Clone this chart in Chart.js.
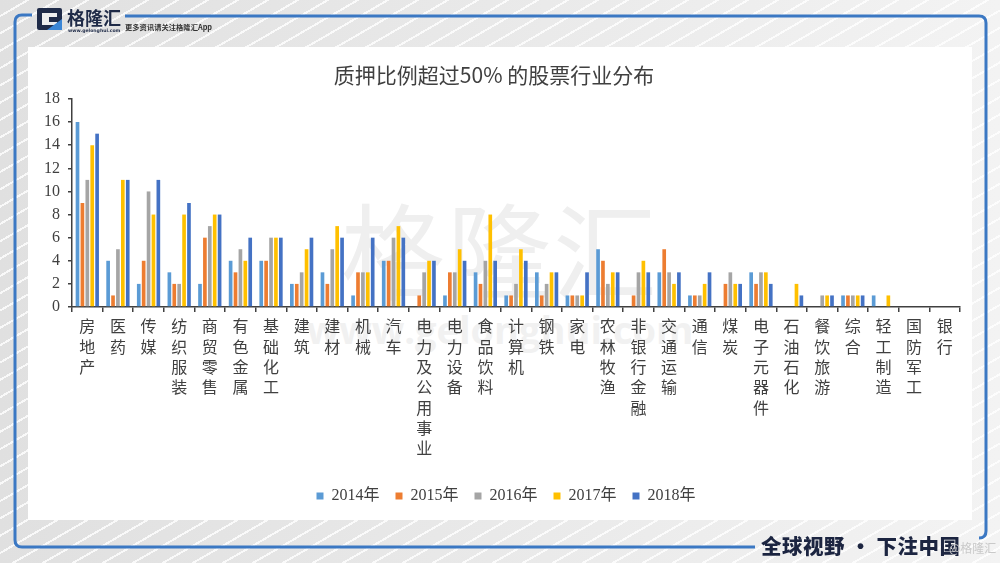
<!DOCTYPE html>
<html><head><meta charset="utf-8">
<script src="https://cdn.jsdelivr.net/npm/chart.js@4/dist/chart.umd.min.js"></script>
<style>
html,body{margin:0;padding:0;}
body{width:1000px;height:563px;position:relative;overflow:hidden;
 background:
  repeating-linear-gradient(150deg, rgba(255,255,255,0) 0px, rgba(255,255,255,0) 13px, rgba(255,255,255,0.8) 13px, rgba(255,255,255,0.8) 15px),
  linear-gradient(90deg,#e0e0e0,#ebebeb 60%,#f3f3f3);}
#panel{position:absolute;left:28px;top:47px;width:944px;height:473px;background:#fff;overflow:hidden;}
#wm1{position:absolute;left:0;width:944px;top:143px;text-align:center;font:104px 'Noto Sans CJK SC';color:#efefef;letter-spacing:2px;line-height:114px;}
#wm2{position:absolute;left:0;width:944px;top:256px;text-align:center;font:bold 38px 'Open Sans','DejaVu Sans';color:#f1f1f1;}
#c{position:absolute;left:0;top:0;}
#deco{position:absolute;left:0;top:0;}
</style></head>
<body>
<div id="panel">
  <div id="wm1">格隆汇</div>
  <div id="wm2">www.gelonghui.com</div>
  <canvas id="c" width="944" height="473"></canvas>
</div>
<svg id="deco" width="1000" height="563" xmlns="http://www.w3.org/2000/svg">
  <path d="M32 15 H22 Q15 15 15 22 V540 Q15 547 22 547 H755" fill="none" stroke="#3b78c3" stroke-width="3"/>
  <path d="M125 16 H979 Q986 16 986 23 V531 Q986 538 979 538" fill="none" stroke="#3b78c3" stroke-width="3"/>
  <rect x="37" y="8" width="25" height="22" rx="2" fill="#1f2b48"/>
  <rect x="42" y="13" width="15" height="12" fill="#eeeeee"/>
  <rect x="49" y="17" width="13" height="5" fill="#1f2b48"/>
  <polygon points="47,30 62,30 62,19" fill="#3b86d6"/>
  <text x="67" y="25" font-family="Noto Sans CJK SC" font-weight="bold" font-size="18" fill="#1f2b48">格隆汇</text>
  <text x="68" y="32" font-family="DejaVu Sans" font-weight="bold" font-size="4.6" fill="#1f2b48">www.gelonghui.com</text>
  <text x="125" y="30" font-family="Noto Sans CJK SC" font-weight="bold" font-size="7.3" fill="#333">更多资讯请关注格隆汇App</text>
  <text x="761" y="554" font-family="Noto Sans CJK SC" font-weight="900" font-size="20.5" letter-spacing="0.5" fill="#1c2541">全球视野 • 下注中国</text>
  <text x="949" y="553" font-family="Noto Sans CJK SC" font-size="12" fill="#c9c9c9">@格隆汇</text>
</svg>
<script>
const categories = ['房地产','医药','传媒','纺织服装','商贸零售','有色金属','基础化工','建筑','建材','机械','汽车','电力及公用事业','电力设备','食品饮料','计算机','钢铁','家电','农林牧渔','非银行金融','交通运输','通信','煤炭','电子元器件','石油石化','餐饮旅游','综合','轻工制造','国防军工','银行'];
const seriesNames = ['2014年','2015年','2016年','2017年','2018年'];
const v2014 = [16,4,2,3,2,4,4,2,3,1,4,0,1,3,1,3,1,5,0,3,1,0,3,0,0,1,1,0,0];
const v2015 = [9,1,4,2,6,3,4,2,2,3,4,1,3,2,1,1,1,4,1,5,1,2,2,0,0,1,0,0,0];
const v2016 = [11,5,10,2,7,5,6,3,5,3,6,3,3,4,2,2,1,2,3,3,1,3,3,0,1,1,0,0,0];
const v2017 = [14,11,8,8,8,4,6,5,7,3,7,4,5,8,5,3,1,3,4,2,2,2,3,2,1,1,1,0,0];
const v2018 = [15,11,11,9,8,6,6,6,6,6,6,4,4,4,4,3,3,3,3,3,3,2,2,1,1,1,0,0,0];
const yMin = 0, yMax = 18, yStep = 2;
const titleText = '质押比例超过50% 的股票行业分布';

const colors = ['#5B9BD5','#ED7D31','#A5A5A5','#FFC000','#4472C4'];
const seriesValues = [v2014, v2015, v2016, v2017, v2018];

const titlePlugin = {
  id: 'customTitle',
  afterLayout(chart) {
    if (chart.legend) { chart.legend.left += 12; chart.legend.right += 12; }
  },
  afterDraw(chart) {
    const ctx = chart.ctx;
    ctx.save();
    ctx.font = '21px "Noto Sans CJK SC"';
    ctx.fillStyle = '#404040';
    ctx.textAlign = 'center';
    ctx.textBaseline = 'middle';
    ctx.fillText(titleText, 466, 28);
    ctx.restore();
  }
};

new Chart(document.getElementById('c'), {
  type: 'bar',
  data: {
    labels: categories.map(c => c.split('')),
    datasets: seriesNames.map((n, i) => ({
      label: n,
      data: seriesValues[i],
      backgroundColor: colors[i],
      borderWidth: 0,
      categoryPercentage: 0.8,
      barPercentage: 0.75
    }))
  },
  options: {
    responsive: false,
    animation: false,
    devicePixelRatio: 1,
    layout: { padding: { top: 52, right: 12, left: 0, bottom: 6 } },
    plugins: {
      legend: {
        position: 'bottom',
        labels: { boxWidth: 7, boxHeight: 7, padding: 16, color: '#404040',
          font: { family: "'Liberation Serif','Noto Sans CJK SC'", size: 16 } }
      },
      tooltip: { enabled: false }
    },
    scales: {
      x: {
        grid: { display: true, drawOnChartArea: false, drawTicks: true, tickLength: 5, color: '#404040', lineWidth: 1.5, offset: true },
        border: { display: true, color: '#404040', width: 1.5 },
        ticks: { autoSkip: false, maxRotation: 0, minRotation: 0, padding: 4, color: '#404040',
          font: { family: "'Noto Sans CJK SC'", size: 16, lineHeight: 1.27 } },
        afterFit(s) { s.height = 165; }
      },
      y: {
        min: yMin, max: yMax,
        ticks: { stepSize: yStep, color: '#404040', padding: 8,
          font: { family: "'Liberation Serif'", size: 16 } },
        grid: { display: true, drawOnChartArea: false, drawTicks: true, tickLength: 4, color: '#404040', lineWidth: 1.5 },
        border: { color: '#404040', width: 1.5 },
        afterFit(s) { s.width = 44; }
      }
    }
  },
  plugins: [titlePlugin]
});
</script>
</body></html>
